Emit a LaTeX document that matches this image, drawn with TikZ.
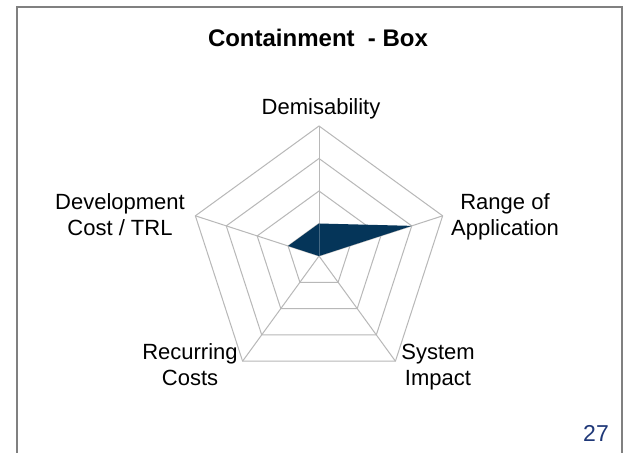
\documentclass[tikz,border=0pt]{standalone}
\usepackage{fontspec}
\setmainfont{Liberation Sans}
\definecolor{framegray}{HTML}{808080}
\definecolor{gridgray}{HTML}{B8B8B8}
\definecolor{datafill}{HTML}{053559}
\definecolor{pagenum}{HTML}{1F3878}
\begin{document}
\begin{tikzpicture}[x=1pt,y=-1pt,
  frame/.style={draw=framegray,line width=1.5pt},
  grid/.style={draw=gridgray,line width=1pt,line join=miter},
  lbl/.style={inner sep=0pt,align=center,anchor=base,font=\fontsize{22}{25.5}\selectfont},
  ttl/.style={inner sep=0pt,anchor=base,font=\fontsize{24}{28}\selectfont\bfseries}]
\useasboundingbox (0,0) rectangle (623,452);
\fill[white] (0,0) rectangle (623,452);
\draw[frame] (17,453) -- (17,7) -- (622,7) -- (622,453);
\node[ttl] (title) at (318,46.5) {Containment\ \ - Box};
\begin{scope}[shift={(319,256)},x=1pt,y=1pt]
  \coordinate (c) at (0,0);
  \coordinate (vD) at (90:130);
  \coordinate (vR) at (18:130);
  \coordinate (vS) at (-54:130);
  \coordinate (vC) at (-126:130);
  \coordinate (vT) at (162:130);
  \coordinate (dD) at (90:32.5);
  % rings
  \foreach \r in {32.5,65,97.5,130}{
    \draw[grid] (90:\r) -- (18:\r) -- (-54:\r) -- (-126:\r) -- (162:\r) -- cycle;
  }
  % axes
  \foreach \v in {vD,vR,vS,vC,vT}{
    \draw[grid] (c) -- (\v);
  }
  % data polygon
  \fill[datafill] (dD) -- (18:97.5) -- (c) -- (162:32.5) -- cycle;
  \draw[datafill!75!white,line width=0.5pt] (dD) -- (c);
\end{scope}
\node[lbl] (lD) at (321,114) {Demisability};
\node[lbl] (lR) at (505,235) {Range of\\Application};
\node[lbl] (lT) at (120,235) {Development\\Cost / TRL};
\node[lbl] (lC) at (190,385) {Recurring\\Costs};
\node[lbl] (lS) at (438,385) {System\\Impact};
\node[inner sep=0pt,anchor=base,text=pagenum,font=\fontsize{23}{27}\selectfont] (pg) at (596,441.7) {27};
\end{tikzpicture}
\end{document}
